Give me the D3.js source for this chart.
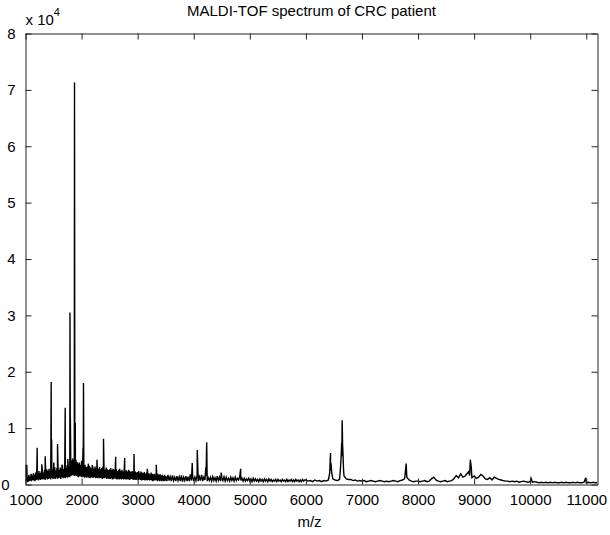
<!DOCTYPE html>
<html>
<head>
<meta charset="utf-8">
<script src="https://cdn.jsdelivr.net/npm/d3@7"></script>
<style>
  body { margin: 0; background: #fff; }
  text { font-family: "Liberation Sans", Arial, Helvetica, sans-serif; fill: #000; }
</style>
</head>
<body>
<svg id="chart" width="610" height="535"></svg>
<script>
// ---- spectrum data (intensity in counts) ----
const titleText = "MALDI-TOF spectrum of CRC patient";
const xLabelText = "m/z";
const xTickValues = [1000, 2000, 3000, 4000, 5000, 6000, 7000, 8000, 9000, 10000, 11000];
const yTickValues = [0, 10000, 20000, 30000, 40000, 50000, 60000, 70000, 80000];
const yExponent = 4;

// low-mass region: 1000–3490 Da, one sample every 10 Da
const lowStart = 1000, lowStep = 10;
const lowIntensity = [
  3500, 600, 1500, 400, 1300, 500, 1700, 600, 1400, 700,
  1900, 600, 1600, 800, 2000, 700, 1700, 600, 2100, 800,
  2200, 900, 1800, 700, 2400, 900, 2000, 800, 2300, 1000,
  2500, 900, 2100, 1000, 2600, 800, 2200, 1100, 2700, 900,
  2400, 1000, 2800, 1100, 2300, 900, 3000, 1200, 2600, 1000,
  2700, 1100, 3100, 1000, 2500, 1200, 2900, 1000, 3200, 1100,
  2600, 1200, 3000, 1000, 2800, 1300, 3300, 1100, 2700, 1200,
  3100, 1100, 3400, 1300, 2900, 1200, 3600, 1400, 3200, 1300,
  3800, 1500, 4200, 1600, 4600, 1700, 4300, 1500, 4800, 1600,
  4400, 1500, 4000, 1400, 3700, 1300, 3900, 1500, 3500, 1400,
  4200, 1300, 3600, 1400, 3300, 1200, 3500, 1300, 3100, 1200,
  3200, 1300, 2900, 1200, 3300, 1100, 3000, 1300, 2800, 1200,
  3100, 1200, 2800, 1300, 3200, 1100, 2900, 1200, 3000, 1100,
  2800, 1200, 3100, 1100, 2700, 1200, 2900, 1000, 3200, 1100,
  2800, 1100, 2600, 1200, 3000, 1000, 2700, 1100, 2500, 1000,
  2700, 1000, 2900, 1100, 2500, 900, 2800, 1000, 2600, 1100,
  2500, 1000, 2700, 900, 2400, 1000, 2600, 900, 2800, 1000,
  2400, 900, 2600, 1000, 2300, 900, 2700, 1000, 2400, 900,
  2500, 900, 2300, 1000, 2600, 800, 2400, 900, 2200, 1000,
  2400, 900, 2200, 800, 2500, 900, 2300, 800, 2100, 900,
  2200, 800, 2400, 900, 2000, 800, 2300, 700, 2100, 800,
  2000, 800, 2200, 700, 1900, 800, 2100, 700, 1900, 800,
  2000, 700, 1800, 800, 2100, 700, 1900, 600, 1800, 700,
  1900, 700, 1700, 800, 1800, 600, 1900, 700, 1700, 600,
  1800, 700, 1600, 600, 1700, 700, 1500, 600, 1700, 700
];

// mid-mass region: 3500–5980 Da, one sample every 20 Da
const midStart = 3500, midStep = 20;
const midIntensity = [
  1500, 600, 1700, 700, 1400, 600, 1600, 700, 1300, 600,
  1500, 700, 1400, 600, 1600, 500, 1300, 700, 1500, 600,
  1400, 600, 1800, 700, 1500, 600, 1300, 700, 1600, 600,
  1400, 700, 1700, 600, 1300, 800, 1500, 600, 1200, 700,
  1300, 600, 1400, 700, 1200, 600, 1500, 700, 1300, 600,
  1200, 700, 1400, 600, 1300, 700, 1100, 600, 1300, 700,
  1200, 600, 1300, 700, 1100, 800, 1400, 700, 1100, 600,
  1100, 600, 1000, 700, 1100, 600, 1000, 500, 1100, 600,
  1000, 600, 900, 500, 1000, 600, 900, 500, 1000, 600,
  900, 500, 1000, 600, 900, 500, 800, 600, 900, 500,
  900, 600, 800, 500, 900, 600, 800, 500, 900, 500,
  800, 600, 900, 500, 800, 500, 900, 600, 800, 500,
  800, 500, 900, 600, 800
];

// high-mass region: 6000–11200 Da, one sample every 40 Da
const highStart = 6000, highStep = 40;
const highIntensity = [
  800, 600, 700, 500, 800, 600, 700, 500, 700, 600,
  800, 2500, 1000, 800, 700, 900, 5000, 1500, 1000, 900,
  900, 700, 800, 600, 700, 600, 700, 500, 600, 700,
  600, 500, 600, 700, 600, 500, 600, 500, 600, 700,
  600, 500, 700, 800, 1000, 1300, 800, 600, 500, 600,
  600, 500, 600, 700, 500, 600, 1000, 1300, 800, 600,
  500, 600, 700, 500, 600, 700, 1000, 1600, 1200, 1900,
  1300, 1500, 2000, 1600, 1200, 1500, 1100, 1300, 1800, 1500,
  1000, 900, 1200, 800, 1300, 1100, 900, 800, 700, 600,
  600, 500, 600, 500, 600, 400, 500, 600, 500, 400,
  500, 400, 500, 400, 300, 400, 300, 400, 300, 400,
  300, 400, 300, 300, 400, 300, 400, 300, 300, 400,
  300, 400, 300, 300, 400, 300, 400, 300, 400, 300,
  300
];

// individual ion peaks (m/z, apex intensity)
const peakMz = [
  1023, 1209, 1290, 1351, 1458, 1466, 1505, 1571, 1650, 1708,
  1755, 1793, 1800, 1874, 1888, 2026, 2034, 2120, 2190, 2275,
  2391, 2608, 2769, 2935, 3172, 3332, 3973, 4063, 4215, 4231,
  4490, 4837, 6425, 6432, 6439, 6447, 6460, 6610, 6628, 6638,
  6647, 6655, 6664, 6672, 7770, 7788, 7796, 8905, 8932, 8950,
  10015, 10990
];
const peakHeight = [
  3500, 6500, 3600, 5000, 18200, 8000, 3900, 7200, 3500, 13600,
  4500, 30500, 11900, 71300, 10900, 6500, 18000, 3700, 3400, 4400,
  8100, 4900, 4700, 5400, 2800, 3500, 3800, 6100, 3000, 7500,
  2100, 2800, 2000, 3900, 5600, 3800, 2200, 2000, 4700, 7400,
  11400, 7000, 4700, 2500, 1800, 3700, 2000, 2300, 4400, 3000,
  1100, 1200
];

// ---- assemble the spectrum ----
function region(start, step, values) {
  return values.map((v, i) => ({ mz: start + i * step, y: v }));
}
const spectrum = [
  ...region(lowStart, lowStep, lowIntensity),
  ...region(midStart, midStep, midIntensity),
  ...region(highStart, highStep, highIntensity),
  ...peakMz.map((m, i) => ({ mz: m, y: peakHeight[i] }))
].sort((a, b) => a.mz - b.mz);

// ---- layout ----
const svg = d3.select("#chart");
const plotLeft = 25.5, plotRight = 597.5, plotTop = 33.5, plotBottom = 484.5;
const tickLen = 6;

const x = d3.scaleLinear().domain([1000, 11200]).range([plotLeft, plotRight]);
const y = d3.scaleLinear().domain([0, 80000]).range([plotBottom, plotTop]);

svg.append("rect").attr("width", 610).attr("height", 535).attr("fill", "#fff");

svg.append("defs").append("clipPath").attr("id", "plotClip")
  .append("rect").attr("x", plotLeft).attr("y", plotTop)
  .attr("width", plotRight - plotLeft).attr("height", plotBottom - plotTop);

// spectrum trace
svg.append("path")
  .datum(spectrum)
  .attr("clip-path", "url(#plotClip)")
  .attr("fill", "none")
  .attr("stroke", "#000")
  .attr("stroke-width", 1.4)
  .attr("d", d3.line().x(d => x(d.mz)).y(d => y(d.y)));

// axes: inward ticks on all four sides
const fmtY = d => String(d / Math.pow(10, yExponent));

const bottomAxis = d3.axisBottom(x).tickValues(xTickValues).tickSizeInner(-tickLen).tickSizeOuter(0).tickPadding(10).tickFormat(d3.format("d"));
const topAxis = d3.axisTop(x).tickValues(xTickValues).tickSizeInner(-tickLen).tickSizeOuter(0).tickFormat("");
const leftAxis = d3.axisLeft(y).tickValues(yTickValues).tickSizeInner(-tickLen).tickSizeOuter(0).tickPadding(10).tickFormat(fmtY);
const rightAxis = d3.axisRight(y).tickValues(yTickValues).tickSizeInner(-tickLen).tickSizeOuter(0).tickFormat("");

function styleAxis(g) {
  g.select(".domain").attr("stroke", "#222").attr("stroke-width", 1);
  g.selectAll(".tick line").attr("stroke", "#222").attr("stroke-width", 1);
  g.selectAll(".tick text").attr("font-size", 15).attr("fill", "#000")
    .attr("font-family", "'Liberation Sans', Arial, sans-serif");
}

svg.append("g").attr("transform", `translate(0,${plotBottom})`).call(bottomAxis).call(styleAxis);
svg.append("g").attr("transform", `translate(0,${plotTop})`).call(topAxis).call(styleAxis);
const gl = svg.append("g").attr("transform", `translate(${plotLeft},0)`).call(leftAxis).call(styleAxis);
svg.append("g").attr("transform", `translate(${plotRight},0)`).call(rightAxis).call(styleAxis);

// the zero label sits lower-left of the corner
gl.selectAll(".tick text").filter(d => d === 0).attr("dx", -6).attr("dy", "0.3em");

// exponent marker above the y axis
const expo = svg.append("text").attr("x", plotLeft).attr("y", 25).attr("font-size", 15);
expo.append("tspan").text("x 10");
expo.append("tspan").attr("dy", -9).attr("font-size", 11).text(String(yExponent));

// title and x label
svg.append("text").attr("x", (plotLeft + plotRight) / 2).attr("y", 16)
  .attr("text-anchor", "middle").attr("font-size", 15).text(titleText);
svg.append("text").attr("x", (plotLeft + plotRight) / 2 - 2).attr("y", 527)
  .attr("text-anchor", "middle").attr("font-size", 15).text(xLabelText);
</script>
</body>
</html>
